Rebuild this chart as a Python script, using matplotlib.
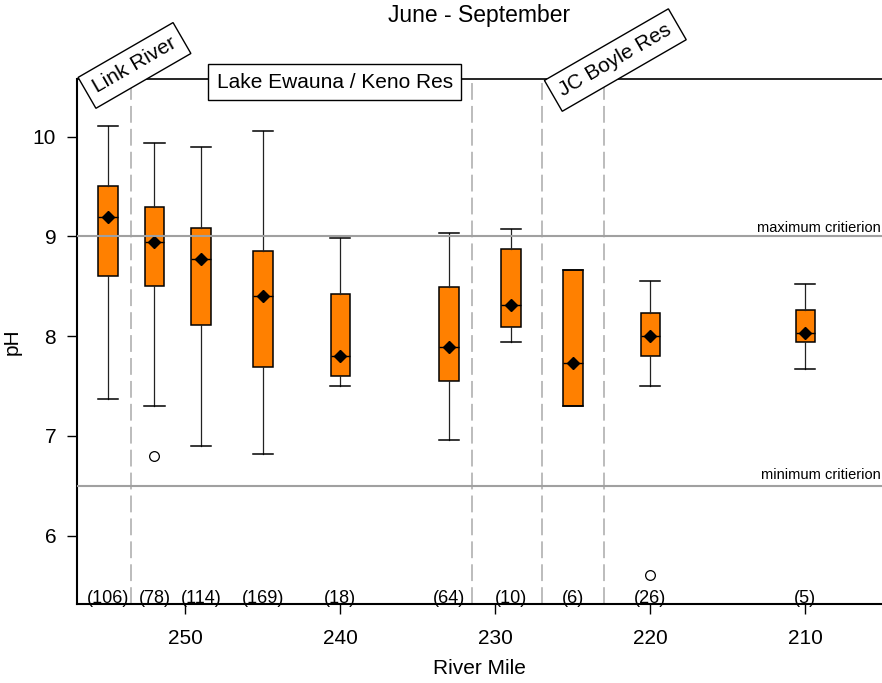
import matplotlib
matplotlib.use('Agg')
from matplotlib import pyplot as plt

plt.rcParams['font.family'] = ['Liberation Sans', 'DejaVu Sans']

# data
river_mile = [255, 252, 249, 245, 240, 233, 229, 225, 220, 210]
counts = [106, 78, 114, 169, 18, 64, 10, 6, 26, 5]
whislo = [7.37, 7.30, 6.90, 6.82, 7.50, 6.96, 7.94, 7.30, 7.50, 7.67]
q1 = [8.60, 8.50, 8.11, 7.69, 7.60, 7.55, 8.09, 7.30, 7.80, 7.94]
med = [9.20, 8.94, 8.77, 8.40, 7.80, 7.89, 8.31, 7.73, 8.00, 8.03]
mean = [9.20, 8.94, 8.77, 8.40, 7.80, 7.89, 8.31, 7.73, 8.00, 8.03]
q3 = [9.51, 9.30, 9.09, 8.85, 8.42, 8.49, 8.87, 8.66, 8.23, 8.26]
whishi = [10.11, 9.94, 9.90, 10.06, 8.98, 9.03, 9.08, 8.66, 8.55, 8.52]
fliers = [[], [6.80], [], [], [], [], [], [], [5.60], []]

reach_breaks = [253.5, 231.5, 227, 223]
max_crit = 9.0
min_crit = 6.5

stats = []
for i in range(len(river_mile)):
    stats.append(dict(med=med[i], q1=q1[i], q3=q3[i], whislo=whislo[i],
                      whishi=whishi[i], fliers=fliers[i], mean=mean[i]))

fig = plt.figure(figsize=(8.82, 6.83), dpi=100)
ax = fig.add_axes([77/882, 79/683, 1 - 77/882, (604-79)/683])

ax.bxp(stats, positions=river_mile, widths=1.25, capwidths=1.3,
       patch_artist=True, showmeans=True, manage_ticks=False,
       boxprops=dict(facecolor='#FF8000', edgecolor='black', linewidth=1.1),
       whiskerprops=dict(color='#222222', linewidth=0.9),
       capprops=dict(color='black', linewidth=1.1),
       medianprops=dict(color='black', linewidth=1.0),
       meanprops=dict(marker='D', markerfacecolor='black', markeredgecolor='black', markersize=6.5),
       flierprops=dict(marker='o', markerfacecolor='none', markeredgecolor='black', markersize=7, markeredgewidth=0.9))

ax.set_xlim(257.0, 205.05)
ax.set_ylim(5.313, 10.58)

# criteria
ax.axhline(max_crit, color='#a0a0a0', lw=1.5, zorder=3)
ax.axhline(min_crit, color='#a0a0a0', lw=1.5, zorder=3)
ax.text(205.12, max_crit + 0.01, 'maximum critierion', ha='right', va='bottom', fontsize=10.5, clip_on=False)
ax.text(205.12, min_crit + 0.04, 'minimum critierion', ha='right', va='bottom', fontsize=10.5, clip_on=False)

# reach boundaries
for b in reach_breaks:
    ax.axvline(b, color='#aaaaaa', lw=1.1, dashes=(11, 4), zorder=1)

# sample counts
for m, n in zip(river_mile, counts):
    ax.text(m, 5.325, '(%d)' % n, ha='center', va='baseline', fontsize=13)

# reach labels
ax.text(253.29, 10.716, 'Link River', rotation=30, rotation_mode='anchor', ha='center', va='center',
        fontsize=15, clip_on=False, zorder=5,
        bbox=dict(boxstyle='square,pad=0.4', facecolor='white', edgecolor='black', lw=1))
ax.text(240.37, 10.549, 'Lake Ewauna / Keno Res', ha='center', va='center',
        fontsize=15, clip_on=False, zorder=5,
        bbox=dict(boxstyle='square,pad=0.4', facecolor='white', edgecolor='black', lw=1))
ax.text(222.26, 10.77, 'JC Boyle Res', rotation=30, rotation_mode='anchor', ha='center', va='center',
        fontsize=15, clip_on=False, zorder=5,
        bbox=dict(boxstyle='square,pad=0.4', facecolor='white', edgecolor='black', lw=1))

ax.set_xticks([250, 240, 230, 220, 210])
ax.set_yticks([6, 7, 8, 9, 10])
ax.tick_params(axis='x', length=7, width=1, pad=11, labelsize=15)
ax.tick_params(axis='y', length=7, width=1, pad=8, labelsize=15)

ax.spines['right'].set_visible(False)
ax.spines['left'].set_linewidth(1.5)
ax.spines['bottom'].set_linewidth(1.5)
ax.spines['top'].set_linewidth(1.2)

ax.set_xlabel('River Mile', fontsize=15, labelpad=8)
ax.set_ylabel('pH', fontsize=15, labelpad=8)
fig.text(0.5437, 0.978, 'June - September', ha='center', va='center', fontsize=16.5)

plt.savefig('out.png', dpi=100)
